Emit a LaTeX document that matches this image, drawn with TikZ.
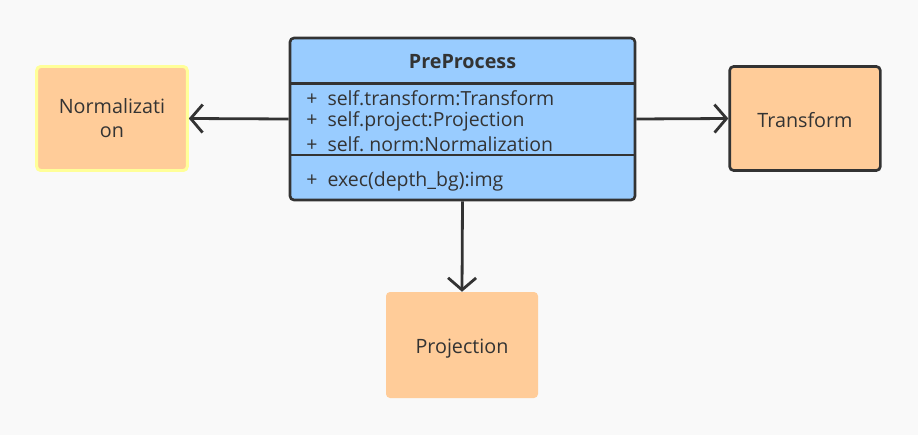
\documentclass[tikz,border=0pt]{standalone}
\usepackage{fontspec}
\setmainfont{Open Sans}
\usetikzlibrary{arrows.meta}

\definecolor{bgcol}{HTML}{F9F9F9}
\definecolor{classblue}{HTML}{99CCFF}
\definecolor{boxorange}{HTML}{FFCC99}
\definecolor{lineink}{HTML}{333333}
\definecolor{hiyellow}{HTML}{FFFF99}

\tikzset{
    classbox/.style={draw=lineink, line width=2pt, fill=classblue, rounded corners=3pt,
        minimum width=258.75pt, minimum height=121.5pt, inner sep=0pt},
    plainbox/.style={fill=boxorange, rounded corners=3pt, inner sep=0pt,
        minimum width=113pt, minimum height=78pt, text=lineink, align=center,
        text depth=0pt, font=\fontsize{14.8}{18}\selectfont},
    member/.style={anchor=west, inner sep=0pt, text=lineink, font=\fontsize{14.6}{17}\selectfont},
    link/.style={draw=lineink, line width=2.1pt, -{Straight Barb[length=9pt, width=21pt, line width=2.1pt]}}
}

\begin{document}
\begin{tikzpicture}[x=0.75pt, y=-0.75pt]
    \fill[bgcol] (0,0) rectangle (918,435);
    \useasboundingbox (0,0) rectangle (918,435);

    % the class
    \node[classbox] (pre) at (462.5,119) {};
    \draw[lineink, line width=2pt] (290,83.5) -- (635,83.5);
    \draw[lineink, line width=2pt] (290,155) -- (635,155);
    \node[inner sep=0pt, text=lineink, font=\fontsize{14.8}{17}\bfseries\selectfont] (title) at (462.5,62) {PreProcess};
    \node[member] (attrA) at (306,98) {+ \ self.transform:Transform};
    \node[member] (attrB) at (306,121) {+ \ self.project:Projection};
    \node[member] (attrC) at (306,144) {+ \ self.\ norm:Normalization};
    \node[member] (meth) at (306,181) {+ \ exec(depth\_bg):img};

    % the parts
    \node[plainbox, draw=hiyellow, line width=2.2pt] (norm) at (112,118.5) {Normalizati\\on};
    \node[plainbox, draw=lineink, line width=2pt, text height=13pt] (trans) at (805,118.5) {Transform};
    \node[plainbox, minimum width=114pt, minimum height=79.5pt, text height=13pt] (proj) at (462,345) {Projection};

    \draw[link] (pre.west) -- (norm.east);
    \draw[link] (pre.east) -- (trans.west);
    \draw[link] (pre.south) -- (proj.north);
\end{tikzpicture}
\end{document}
